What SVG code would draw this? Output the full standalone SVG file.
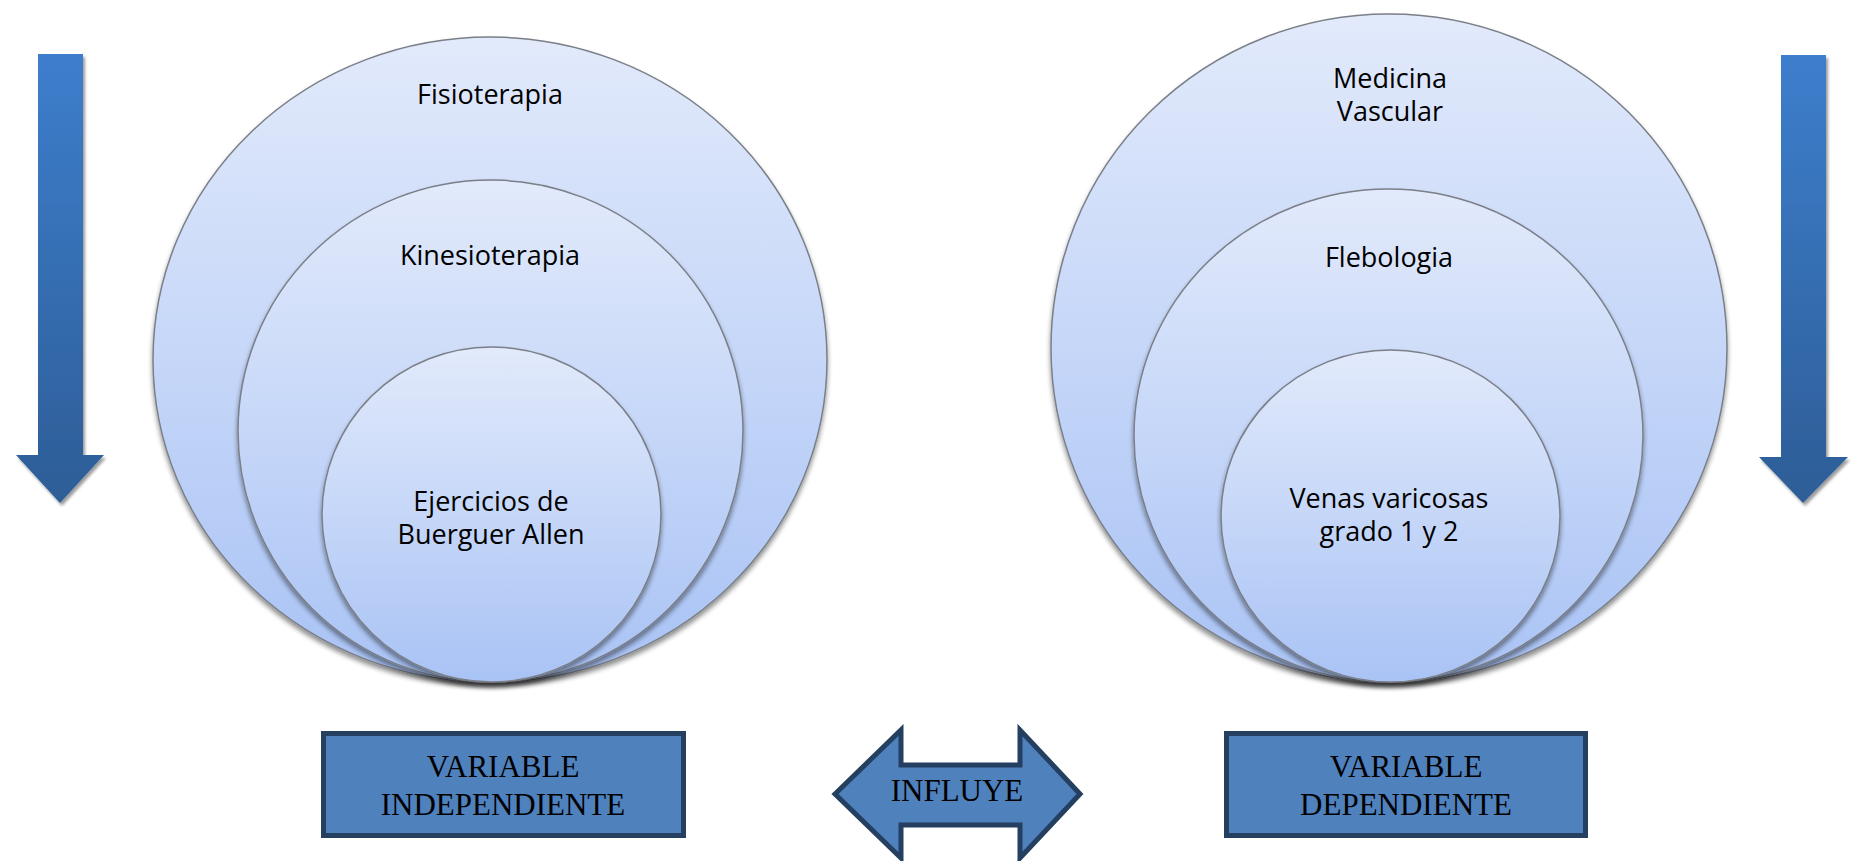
<svg xmlns="http://www.w3.org/2000/svg" width="1854" height="861" viewBox="0 0 1854 861">
<defs>
<linearGradient id="circ" x1="0" y1="0" x2="0" y2="1">
<stop offset="0" stop-color="#e2eafb"/>
<stop offset="1" stop-color="#a9c3f5"/>
</linearGradient>
<linearGradient id="arr" x1="0" y1="0" x2="0" y2="1">
<stop offset="0" stop-color="#3d7ecd"/>
<stop offset="1" stop-color="#2d5d96"/>
</linearGradient>
<filter id="sh" x="-10%" y="-10%" width="120%" height="125%">
<feGaussianBlur in="SourceAlpha" stdDeviation="2.5"/>
<feOffset dx="0" dy="4" result="b"/>
<feComponentTransfer><feFuncA type="linear" slope="0.45"/></feComponentTransfer>
<feMerge><feMergeNode/><feMergeNode in="SourceGraphic"/></feMerge>
</filter>
<filter id="ash" x="-20%" y="-10%" width="140%" height="120%">
<feGaussianBlur in="SourceAlpha" stdDeviation="1.5"/>
<feOffset dx="2" dy="3" result="b"/>
<feComponentTransfer><feFuncA type="linear" slope="0.4"/></feComponentTransfer>
<feMerge><feMergeNode/><feMergeNode in="SourceGraphic"/></feMerge>
</filter>
</defs>
<style>
.c{fill:url(#circ);stroke:#7a7f88;stroke-width:1.5;filter:url(#sh)}
.t{font-family:"Open Sans","Liberation Sans",sans-serif;font-size:27px;fill:#000;text-anchor:middle}
.b{fill:#4f81bd;stroke:#243f60;stroke-width:5}
.s{font-family:"Liberation Serif","Times New Roman",serif;font-size:31px;fill:#000;text-anchor:middle}
.a{fill:url(#arr);filter:url(#ash)}
</style>
<rect width="1854" height="861" fill="#ffffff"/>

<g id="arrow-left">
<polygon class="a" points="38,54 83,54 83,455 104,455 60,503 16,455 38,455"/>
</g>
<g id="arrow-right">
<polygon class="a" points="1781,55 1826,55 1826,457 1848,457 1803,503 1759,457 1781,457"/>
</g>

<g id="fisioterapia">
<ellipse class="c" cx="490" cy="359.5" rx="337" ry="322.5"/>
<text class="t" x="490" y="104">Fisioterapia</text>
</g>
<g id="kinesioterapia">
<ellipse class="c" cx="490.5" cy="431" rx="252.5" ry="251"/>
<text class="t" x="490" y="265">Kinesioterapia</text>
</g>
<g id="ejercicios">
<ellipse class="c" cx="491.5" cy="514.5" rx="169.5" ry="167.5"/>
<text class="t" x="491" y="511">Ejercicios de</text>
<text class="t" x="491" y="544">Buerguer Allen</text>
</g>

<g id="medicina">
<ellipse class="c" cx="1389" cy="348" rx="338" ry="334"/>
<text class="t" x="1390" y="88">Medicina</text>
<text class="t" x="1390" y="121">Vascular</text>
</g>
<g id="flebologia">
<ellipse class="c" cx="1388.5" cy="435.5" rx="254.5" ry="246.5"/>
<text class="t" x="1389" y="267">Flebologia</text>
</g>
<g id="venas">
<ellipse class="c" cx="1390.5" cy="516" rx="169.5" ry="166"/>
<text class="t" x="1389" y="508">Venas varicosas</text>
<text class="t" x="1389" y="541">grado 1 y 2</text>
</g>

<g id="var-independiente">
<rect class="b" x="323.5" y="733.5" width="360" height="102"/>
<text class="s" x="503" y="777">VARIABLE</text>
<text class="s" x="503" y="815">INDEPENDIENTE</text>
</g>
<g id="influye">
<polygon class="b" stroke-width="4" stroke-linejoin="miter" points="835,794 901,730 901,765 1020,765 1020,730 1080,794 1020,858 1020,825 901,825 901,858"/>
<text class="s" x="957" y="801">INFLUYE</text>
</g>
<g id="var-dependiente">
<rect class="b" x="1226.5" y="733.5" width="359" height="102"/>
<text class="s" x="1406" y="777">VARIABLE</text>
<text class="s" x="1406" y="815">DEPENDIENTE</text>
</g>
<g id="connectors"></g>
</svg>
